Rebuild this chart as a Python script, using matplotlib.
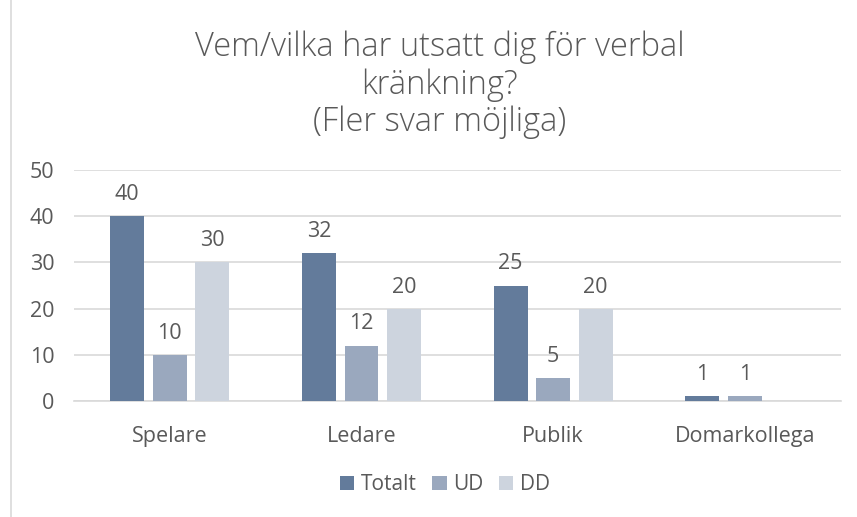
import matplotlib.pyplot as plt
import numpy as np

categories = ['Spelare', 'Ledare', 'Publik', 'Domarkollega']
totalt = [40, 32, 25, 1]
ud = [10, 12, 5, 1]
dd = [30, 20, 20, 0]

series = [('Totalt', totalt, '#637b9b'),
          ('UD', ud, '#9aa8be'),
          ('DD', dd, '#cdd4de')]

text_color = '#595959'
plt.rcParams['font.family'] = ['Open Sans', 'DejaVu Sans']

fig = plt.figure(figsize=(8.57, 5.17), dpi=100)
ax = fig.add_axes([0.0863, 0.2244, 0.8947, 0.4466])

x = np.arange(len(categories))
width = 0.177
step = 0.222

for i, (name, vals, color) in enumerate(series):
    pos = x + (i - 1) * step
    bars = ax.bar(pos, vals, width, color=color, label=name, zorder=3)
    for b, v in zip(bars, vals):
        if v == 0:
            continue
        ax.annotate(str(v), (b.get_x() + b.get_width() / 2, v),
                    xytext=(0, 8), textcoords='offset points',
                    ha='center', va='bottom', fontsize=15.5, color=text_color)

ax.set_xlim(-0.5, len(categories) - 0.5)
ax.set_ylim(0, 50)
ax.set_yticks(range(0, 51, 10))
ax.set_xticks(x)
ax.set_xticklabels(categories)
ax.yaxis.grid(True, color='#d9d9d9', linewidth=1.2, zorder=0)
ax.tick_params(axis='both', length=0, labelsize=15.5, colors=text_color)
ax.tick_params(axis='x', pad=18)
ax.tick_params(axis='y', pad=14)
for s in ['top', 'right', 'left']:
    ax.spines[s].set_visible(False)
ax.spines['bottom'].set_color('#d9d9d9')
ax.spines['bottom'].set_linewidth(1.2)

fig.text(0.513, 0.8356, 'Vem/vilka har utsatt dig för verbal\nkränkning?\n(Fler svar möjliga)',
         ha='center', va='center', fontsize=23.5, color=text_color,
         fontweight='light', linespacing=1.15)

fig.legend(loc='center', bbox_to_anchor=(0.519, 0.062), ncol=3, frameon=False,
           fontsize=15, handlelength=0.7, handleheight=0.7, handletextpad=0.3,
           columnspacing=0.75, labelcolor=text_color)

fig.add_artist(plt.Line2D([0.0125, 0.0125], [0, 1], color='#d9d9d9', linewidth=1.2))

fig.savefig('out.png', dpi=100)
